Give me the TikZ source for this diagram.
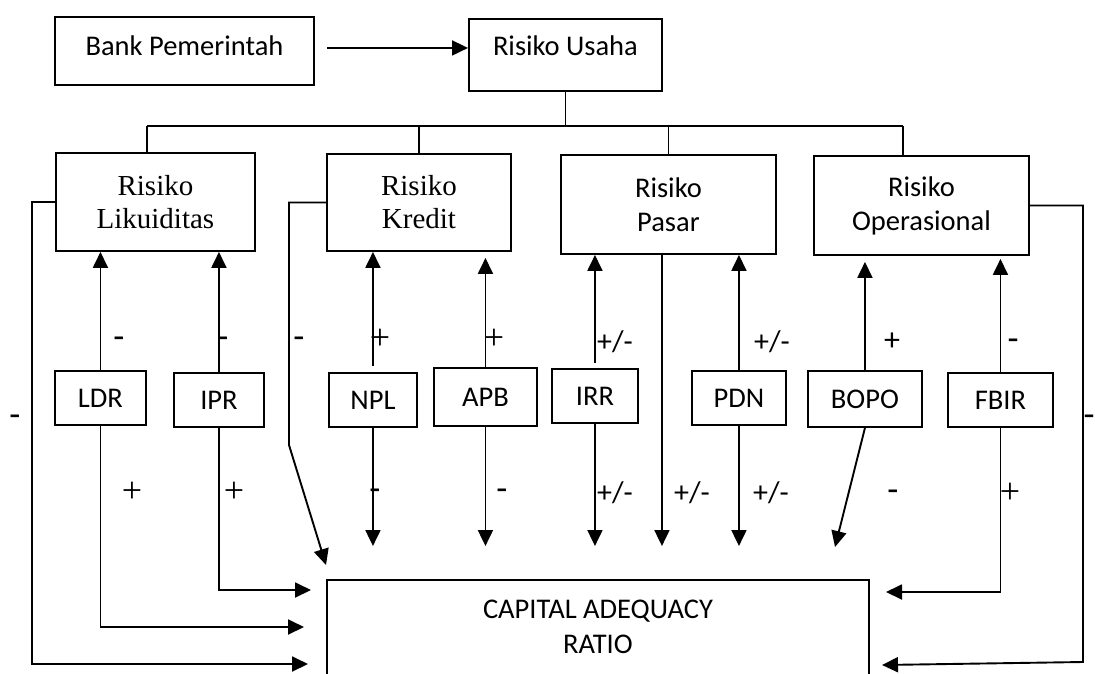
\documentclass[tikz,border=0pt]{standalone}
\usepackage{fontspec}
\setmainfont{Liberation Serif}
\setsansfont{Carlito}
\usetikzlibrary{arrows.meta,calc}
\begin{document}
\begin{tikzpicture}[x=1pt,y=-1pt,line width=1.9pt,
  arr/.style={-{Triangle[length=16pt,width=15pt]}},
  box/.style={draw,inner sep=0pt,anchor=north west,align=center,font=\sffamily\fontsize{28.5}{34}\selectfont},
  sbox/.style={box,font=\rmfamily\fontsize{29}{33}\selectfont},
  lab/.style={inner sep=0pt,font=\sffamily\fontsize{30}{34}\selectfont},
  mlab/.style={inner sep=0pt,font=\sffamily\fontsize{36}{40}\selectfont},
  plab/.style={inner sep=0pt,font=\sffamily\fontsize{32}{36}\selectfont},
  slab/.style={inner sep=0pt,font=\rmfamily\fontsize{36}{40}\selectfont}]
\useasboundingbox (0,0) rectangle (1095,673);
% top boxes
\node[box,minimum width=259pt,minimum height=68pt,text depth=10pt] (bank) at (54,16) {Bank Pemerintah};
\node[box,minimum width=193pt,minimum height=72pt,text depth=18pt] (usaha) at (468,18) {Risiko Usaha};
% risk boxes
\node[sbox,minimum width=199pt,minimum height=98pt] (lik) at (55,152) {Risiko\\Likuiditas};
\node[sbox,minimum width=184pt,minimum height=97pt] (kre) at (326,153) {Risiko\\Kredit};
\node[box,minimum width=215pt,minimum height=99pt] (pas) at (560,154) {Risiko\\Pasar};
\node[box,minimum width=215pt,minimum height=99pt] (ops) at (813,155) {Risiko\\Operasional};
% ratio boxes
\node[box,minimum width=91pt,minimum height=54pt] (ldr) at (54,370) {LDR};
\node[box,minimum width=90pt,minimum height=54pt] (ipr) at (173,372) {IPR};
\node[box,minimum width=88pt,minimum height=54pt] (npl) at (328,372) {NPL};
\node[box,minimum width=103pt,minimum height=58pt] (apb) at (433,367) {APB};
\node[box,minimum width=86pt,minimum height=54pt] (irr) at (551,368) {IRR};
\node[box,minimum width=94pt,minimum height=54pt] (pdn) at (691,370) {PDN};
\node[box,minimum width=114pt,minimum height=56pt] (bopo) at (807,370) {BOPO};
\node[box,minimum width=105pt,minimum height=54pt] (fbir) at (947,372) {FBIR};
% CAR box (bottom edge lies below the page)
\node[box,minimum width=542pt,inner ysep=20pt,text depth=70pt,font=\sffamily\fontsize{28.5}{35}\selectfont] (car) at (326,579) {CAPITAL ADEQUACY\\RATIO};

% top arrow and bus
\draw[arr] ([shift={(12pt,3pt)}]bank.east) -- ([yshift=7pt]usaha.west);
\coordinate (busL) at (147,126);
\coordinate (busR) at (903,126);
\draw (usaha.south) -- (usaha.south |- busL);
\draw (busL) -- (busR);
\draw (busL) -- (busL |- lik.north);
\draw (kre.north |- busL) -- (kre.north);
\draw (pas.north |- busL) -- (pas.north);
\draw (busR) -- (busR |- ops.north);

% up arrows
\draw[arr] (ldr.north) -- (ldr.north |- lik.south);
\draw[arr] (ipr.north) -- (ipr.north |- lik.south);
\draw[arr] ([yshift=6pt]npl.north) -- (npl.north |- kre.south);
\draw[arr,shorten >=6pt] (apb.north) -- (apb.north |- kre.south);
\draw[arr] ([yshift=5pt]irr.north) -- (irr.north |- pas.south);
\draw[arr] (pdn.north) -- (pdn.north |- pas.south);
\draw[arr,shorten >=6pt] (bopo.north) -- (bopo.north |- ops.south);
\draw[arr,shorten >=3pt] (fbir.north) -- (fbir.north |- ops.south);

% down arrows
\coordinate (dT) at (0,546);
\draw[arr] (npl.south) -- (npl.south |- dT);
\draw[arr] (apb.south) -- (apb.south |- dT);
\draw[arr] (irr.south) -- (irr.south |- dT);
\draw[arr] (pdn.south) -- (pdn.south |- dT);
\coordinate (pasD) at ([xshift=-6.5pt]pas.south);
\draw[arr] (pasD) -- (pasD |- dT);
\coordinate (bopoT) at (835,547);
\draw[arr] (bopo.south) -- (bopoT);

% side arrows into CAR
\coordinate (ldrT) at (304,627);
\draw[arr] (ldr.south) |- (ldrT);
\coordinate (iprT) at (311,590);
\draw[arr] (ipr.south) |- (iprT);
\coordinate (fbirT) at (886,592);
\draw[arr] (fbir.south) |- (fbirT);

% loops
\coordinate (likL) at (32,664);
\coordinate (likT) at (308,664);
\draw[arr] (lik.west) -| (likL) -- (likT);
\coordinate (kreL) at (289,445);
\draw[arr] (kre.west) -| (kreL) -- ([yshift=14pt]car.north west);
\coordinate (opsR) at (1083,662);
\coordinate (opsT) at (882,665);
\draw[arr] (ops.east) -| (opsR) -- (opsT);

% labels
\node[mlab] (m1) at (119,343) {-};
\node[mlab] (m2) at (223,343) {-};
\node[mlab] (m3) at (299,343) {-};
\node[slab] (p1) at (380,339) {+};
\node[slab] (p2) at (494,339) {+};
\node[lab] (pm1) at (615,342) {+/-};
\node[lab] (pm2) at (772,342) {+/-};
\node[plab] (p3) at (892,342) {+};
\node[mlab] (m4) at (1013,345) {-};
\node[mlab] (m5) at (15,421) {-};
\node[mlab] (m6) at (1089,421) {-};
\node[slab] (p4) at (132,492) {+};
\node[slab] (p5) at (234,492) {+};
\node[mlab] (m7) at (375,495) {-};
\node[mlab] (m8) at (502,495) {-};
\node[lab] (pm3) at (615,493) {+/-};
\node[lab] (pm4) at (692,493) {+/-};
\node[lab] (pm5) at (771,493) {+/-};
\node[mlab] (m9) at (893,496) {-};
\node[slab] (p6) at (1010,493) {+};
\end{tikzpicture}
\end{document}
